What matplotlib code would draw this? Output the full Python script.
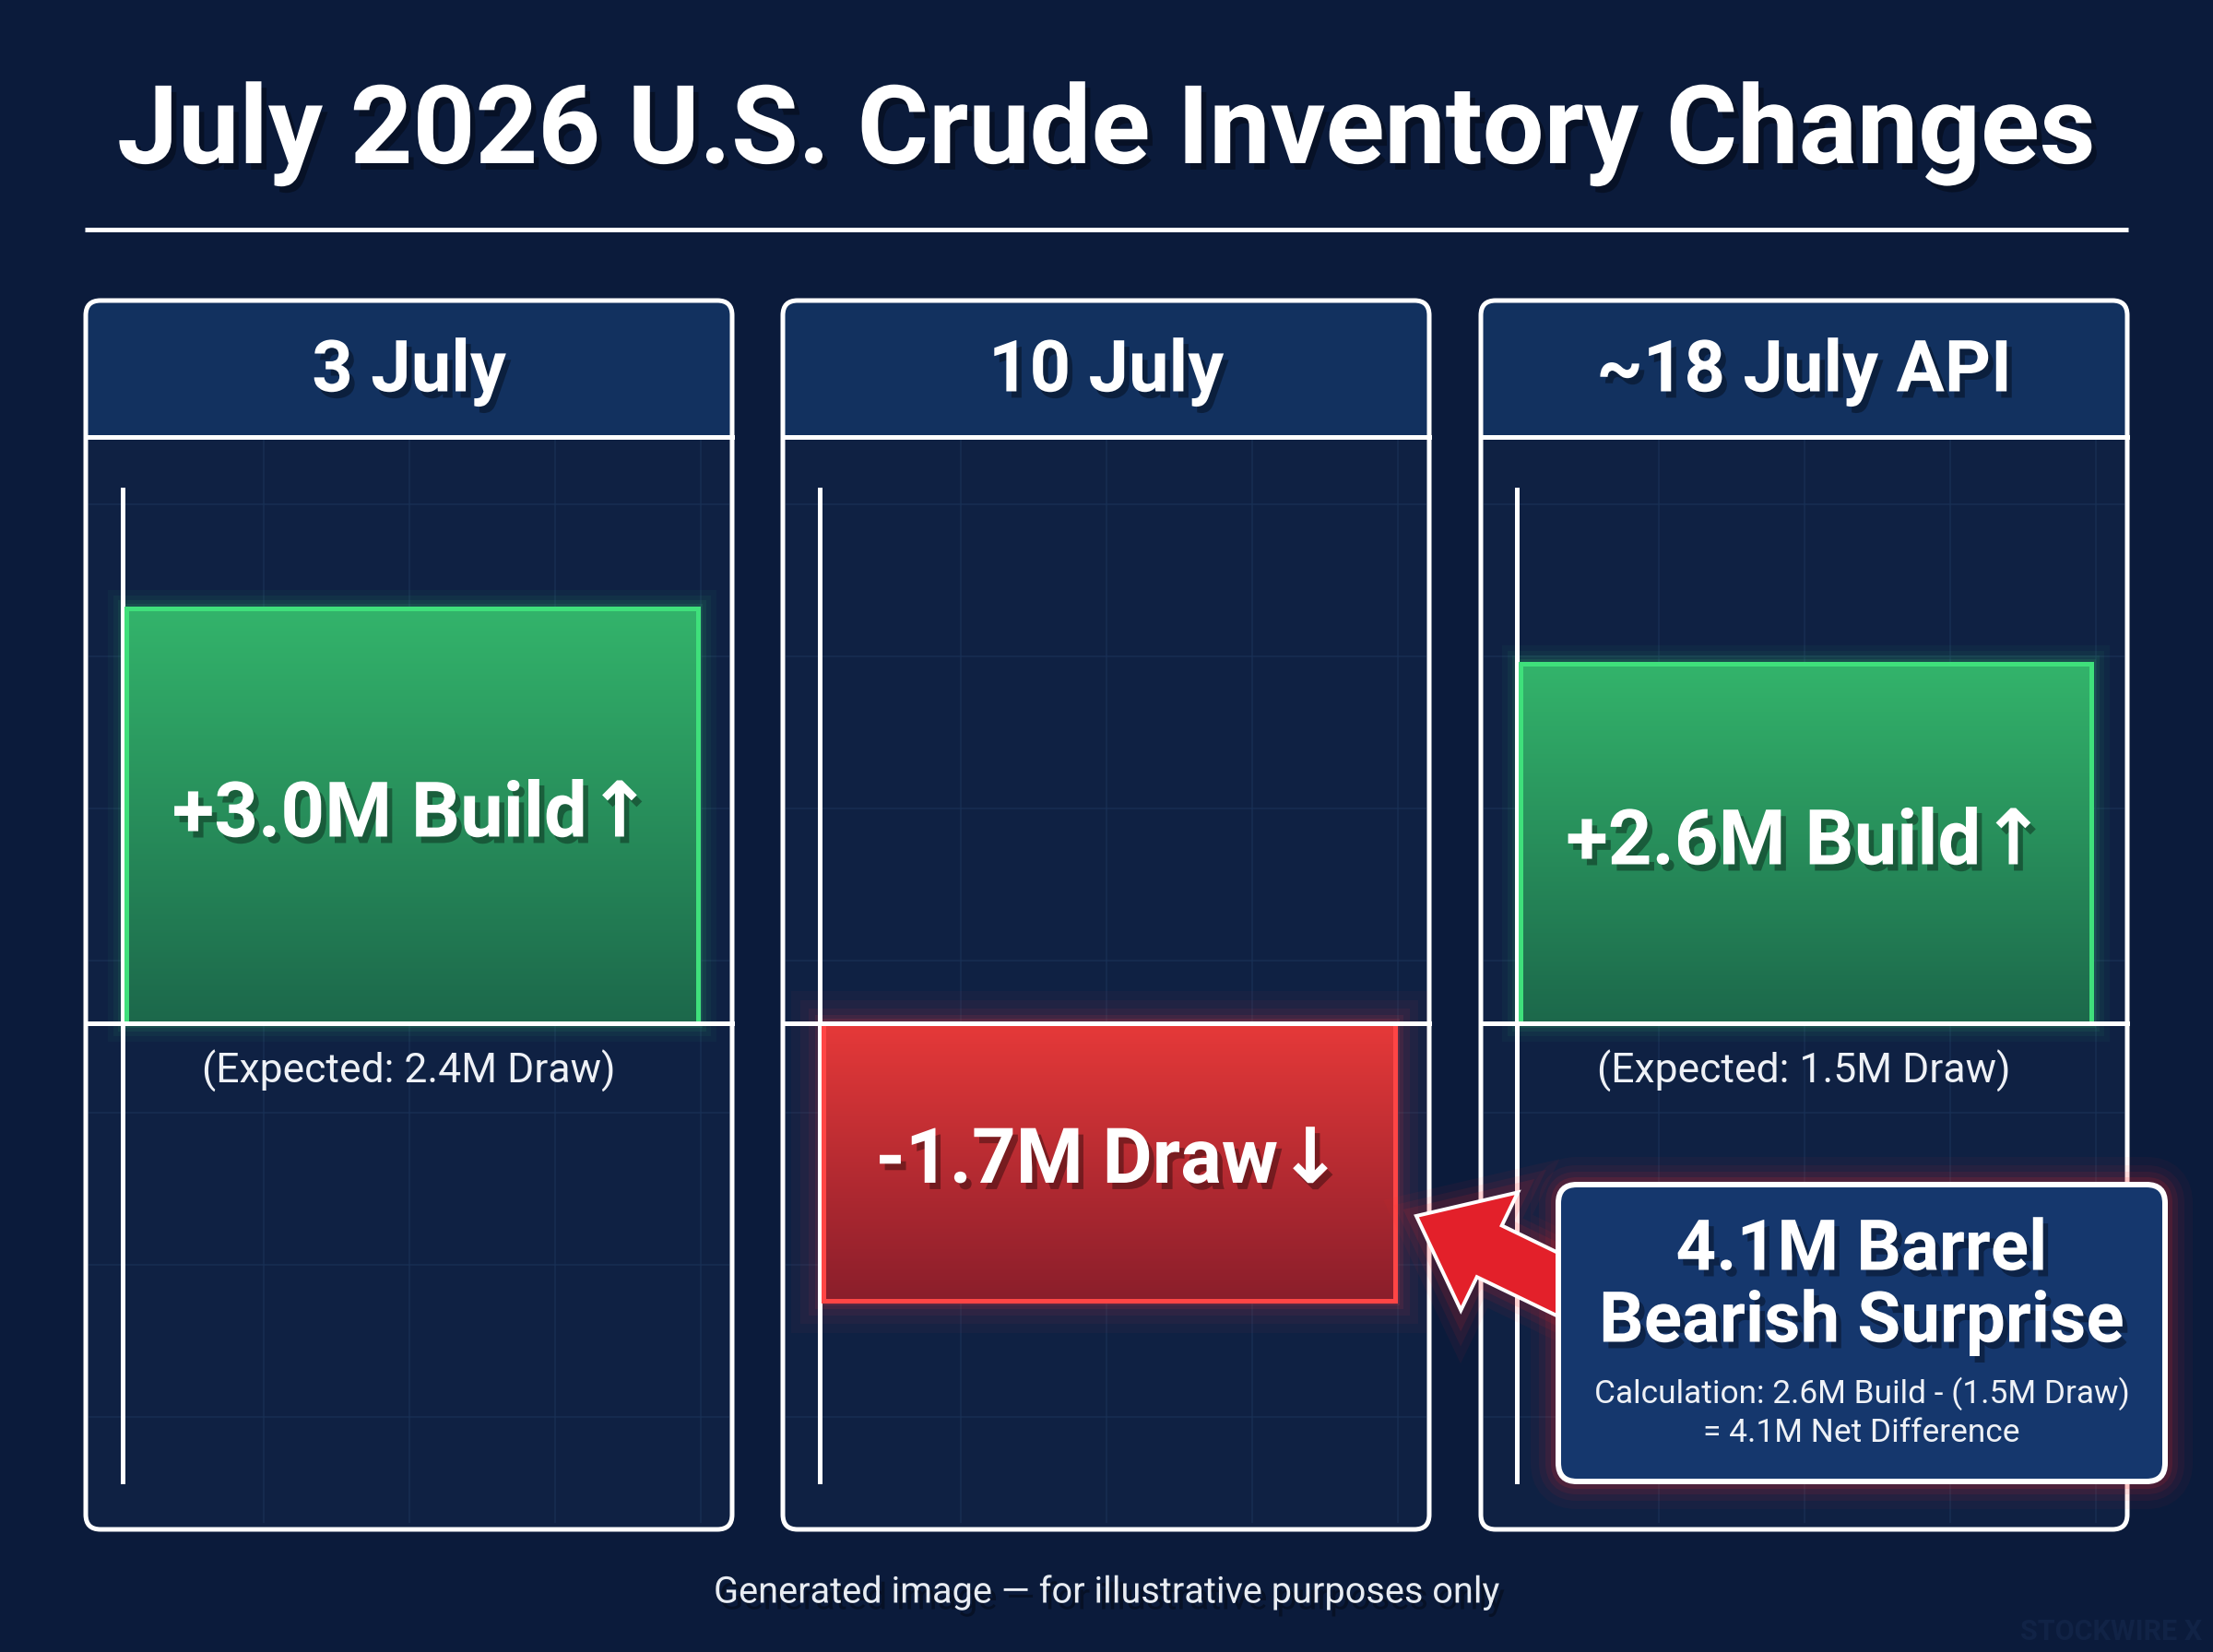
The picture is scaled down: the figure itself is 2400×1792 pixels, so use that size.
import numpy as np
import matplotlib
matplotlib.use("Agg")
import matplotlib.pyplot as plt
from matplotlib.patches import FancyBboxPatch, Rectangle, FancyArrow
import matplotlib.patheffects as pe
from matplotlib.colors import LinearSegmentedColormap

# ---------------- data ----------------
title = "July 2026 U.S. Crude Inventory Changes"
panel_titles = ["3 July", "10 July", "~18 July API"]
changes = [3.0, -1.7, 2.6]          # million barrels
bar_labels = ["+3.0M Build\u2191", "-1.7M Draw\u2193", "+2.6M Build\u2191"]
expected_notes = ["(Expected: 2.4M Draw)", "", "(Expected: 1.5M Draw)"]
callout_title = ["4.1M Barrel", "Bearish Surprise"]
callout_calc = ["Calculation: 2.6M Build - (1.5M Draw)", "= 4.1M Net Difference"]
footer = "Generated image \u2014 for illustrative purposes only"
watermark = "STOCKWIRE X"

# ---------------- style ----------------
plt.rcParams['font.family'] = ['Roboto', 'DejaVu Sans']
W, H, DPI = 2400, 1792, 200
BG = "#0b1b3b"
BODY = "#0f2143"
HDR = "#12315f"
CALL = "#15376d"
GRID = "#1a3157"
GREEN_EDGE = "#3fe07b"
RED_EDGE = "#ff4545"

def pt(px):
    return px * 72.0 / DPI

shadow = [pe.withSimplePatchShadow(offset=(2, -2.5), shadow_rgbFace="black", alpha=0.35)]

fig = plt.figure(figsize=(W / DPI, H / DPI), dpi=DPI)
fig.patch.set_facecolor(BG)

bg = fig.add_axes([0, 0, 1, 1], zorder=0)
bg.set_xlim(0, W); bg.set_ylim(H, 0); bg.axis('off')

ov = fig.add_axes([0, 0, 1, 1], zorder=5)
ov.set_xlim(0, W); ov.set_ylim(H, 0); ov.axis('off')

# title + rule
bg.text(W / 2, 177, title, ha='center', va='baseline', fontsize=42.6, fontweight='bold',
        color='white', path_effects=shadow)
bg.plot([92, 2308], [249, 249], color='white', lw=pt(5), solid_capstyle='butt')

# panel geometry
panel_left = [93, 849, 1606]
pw = 701
ptop, pbot, hdr_bot = 326, 1659, 474
axis_x = [133, 889, 1645]
bar_right = [757, 1513, 2268]
ax_top, ax_bot, base_y = 531, 1607, 1110
px_per_unit = [150, 177, 150]

for i, x0 in enumerate(panel_left):
    bg.add_patch(FancyBboxPatch((x0, ptop), pw, pbot - ptop,
                                boxstyle="round,pad=0,rounding_size=16",
                                fc=BODY, ec='none', zorder=1))
    bg.add_patch(FancyBboxPatch((x0, ptop), pw, hdr_bot - ptop,
                                boxstyle="round,pad=0,rounding_size=16",
                                fc=HDR, ec='none', zorder=1.2))
    bg.add_patch(Rectangle((x0, ptop + 30), pw, hdr_bot - ptop - 30, fc=HDR, ec='none', zorder=1.2))
    # faint background grid
    for gx in np.arange(x0 + 193, x0 + pw, 158):
        bg.plot([gx, gx], [hdr_bot, pbot - 8], color=GRID, lw=pt(2), alpha=0.6, zorder=1.1)
    for gy in np.arange(547, pbot - 20, 165):
        bg.plot([x0 + 4, x0 + pw - 4], [gy, gy], color=GRID, lw=pt(2), alpha=0.6, zorder=1.1)
    bg.add_patch(FancyBboxPatch((x0, ptop), pw, pbot - ptop,
                                boxstyle="round,pad=0,rounding_size=16",
                                fc='none', ec='white', lw=pt(5), zorder=3))
    bg.plot([x0, x0 + pw], [hdr_bot, hdr_bot], color='white', lw=pt(5), zorder=3)
    bg.text(x0 + pw / 2, 404, panel_titles[i], ha='center', va='center', fontsize=28,
            fontweight='bold', color='white', path_effects=shadow, zorder=4)
    if expected_notes[i]:
        bg.text(x0 + pw / 2, 1162, expected_notes[i], ha='center', va='center', fontsize=16,
                color='#eef1f6', zorder=4)

# bar panels
for i in range(3):
    l = axis_x[i] / W
    w_px = bar_right[i] - axis_x[i]
    ax = fig.add_axes([l, 1 - ax_bot / H, w_px / W, (ax_bot - ax_top) / H], zorder=2)
    ax.patch.set_alpha(0)
    v = changes[i]
    pos = v >= 0
    edge = GREEN_EDGE if pos else RED_EDGE
    cm = LinearSegmentedColormap.from_list(
        "g", ["#1c684b", "#33b46b"] if pos else ["#8a1e2b", "#e63939"])
    glows = [(40, 0.04), (28, 0.05), (18, 0.07), (10, 0.10)] if pos else \
            [(70, 0.035), (50, 0.045), (32, 0.06), (18, 0.09), (10, 0.12)]
    for lw, a in glows:
        ax.bar(0, v, width=1, align='edge', fill=False, ec=edge, lw=pt(lw), alpha=a,
               clip_on=False, zorder=2)
    bars = ax.bar(0, v, width=1, align='edge', color="#2a9a5c" if pos else "#c03034",
                  ec='none', zorder=3, clip_on=False)
    r = bars[0]
    y0, y1 = sorted([r.get_y(), r.get_y() + r.get_height()])
    grad = np.linspace(1, 0, 256)[:, None]
    img = ax.imshow(grad, extent=[r.get_x(), r.get_x() + r.get_width(), y0, y1],
                    origin='upper', aspect='auto', cmap=cm, zorder=3.1)
    img.set_clip_path(r)
    ax.bar(0, v, width=1, align='edge', fill=False, ec=edge, lw=pt(5), zorder=3.5,
           clip_on=False)
    s = px_per_unit[i]
    ax.set_ylim(-(ax_bot - base_y) / s, (base_y - ax_top) / s)
    ax.set_xlim(-0.006, 1)
    ax.axhline(0, xmin=(panel_left[i] - axis_x[i]) / w_px,
               xmax=(panel_left[i] + pw - axis_x[i]) / w_px,
               color='white', lw=pt(5), clip_on=False, zorder=5)
    for side in ['top', 'right', 'bottom']:
        ax.spines[side].set_visible(False)
    ax.spines['left'].set_color('white')
    ax.spines['left'].set_linewidth(pt(5))
    ax.set_xticks([]); ax.set_yticks([])
    ax.text(0.5, v / 2, bar_labels[i], ha='center', va='center', fontsize=30,
            fontweight='bold', color='white', path_effects=shadow, zorder=6)

# callout arrow
tip = (1536, 1319)
tail = (1722, 1409)
dx, dy = tip[0] - tail[0], tip[1] - tail[1]
for lw, a in [(50, 0.05), (34, 0.07), (20, 0.10)]:
    ov.add_patch(FancyArrow(tail[0], tail[1], dx, dy, width=62, head_width=142, head_length=88,
                            length_includes_head=True, fc='none', ec='#ff2a2a', lw=pt(lw),
                            alpha=a, zorder=2))
ov.add_patch(FancyArrow(tail[0], tail[1], dx, dy, width=62, head_width=142, head_length=88,
                        length_includes_head=True, fc='#e3202a', ec='white', lw=pt(4), zorder=3))

# callout box
cx, cy, cw, ch = 1690, 1285, 658, 322
for lw, a in [(60, 0.04), (42, 0.06), (28, 0.08), (16, 0.12)]:
    ov.add_patch(FancyBboxPatch((cx, cy), cw, ch, boxstyle="round,pad=0,rounding_size=20",
                                fc='none', ec='#ff2a2a', lw=pt(lw), alpha=a, zorder=2.5))
ov.add_patch(FancyBboxPatch((cx, cy), cw, ch, boxstyle="round,pad=0,rounding_size=20",
                            fc=CALL, ec='white', lw=pt(6), zorder=4))
ccx = cx + cw / 2
ov.text(ccx, 1357, callout_title[0], ha='center', va='center', fontsize=27.5, fontweight='bold',
        color='white', path_effects=shadow, zorder=5)
ov.text(ccx, 1435, callout_title[1], ha='center', va='center', fontsize=27.5, fontweight='bold',
        color='white', path_effects=shadow, zorder=5)
ov.text(ccx, 1512, callout_calc[0], ha='center', va='center', fontsize=12.7, color='#eef1f6', zorder=5)
ov.text(ccx, 1555, callout_calc[1], ha='center', va='center', fontsize=12.7, color='#eef1f6', zorder=5)

# footer and watermark
bg.text(W / 2, 1727, footer, ha='center', va='center', fontsize=14.3, color='#e8ecf2',
        path_effects=shadow)
bg.text(2388, 1770, watermark, ha='right', va='center', fontsize=11, fontweight='bold',
        color='#112346')

fig.savefig("out.png", dpi=DPI, facecolor=BG)
